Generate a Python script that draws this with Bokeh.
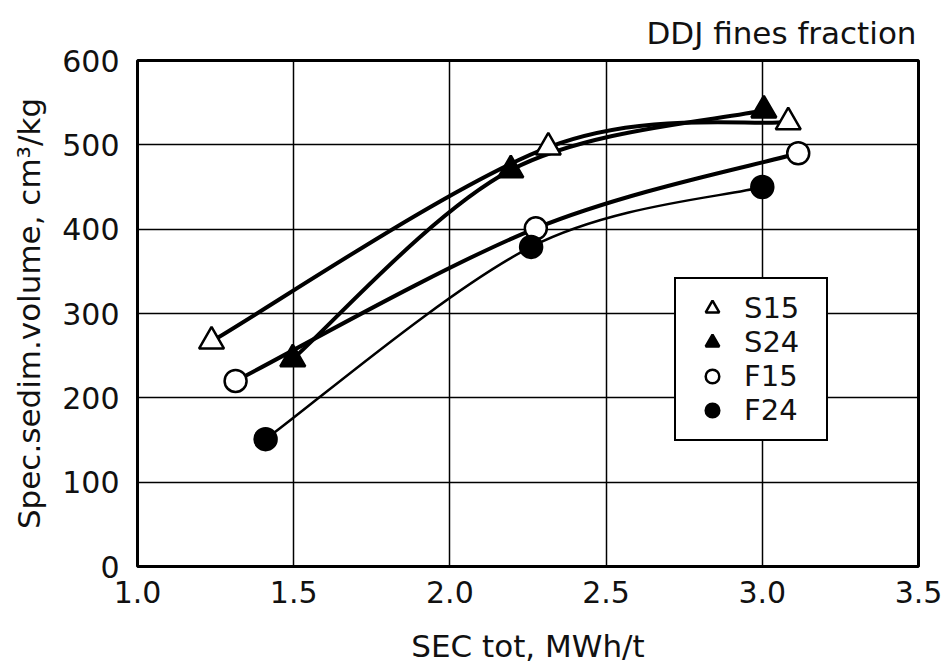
from bokeh.plotting import figure
from bokeh.models import Legend, LegendItem, FixedTicker, ColumnDataSource
from bokeh.embed import file_html
from bokeh.resources import INLINE

# ---- data ----
s15_x = [1.237, 2.315, 3.083]
s15_y = [267, 497, 527]
s24_x = [1.497, 2.195, 3.005]
s24_y = [246, 470, 541]
f15_x = [1.314, 2.275, 3.115]
f15_y = [220, 401, 490]
f24_x = [1.41, 2.26, 3.0]
f24_y = [151, 379, 450]

series_names = ["S15", "S24", "F15", "F24"]
x_ticks = [1.0, 1.5, 2.0, 2.5, 3.0, 3.5]
x_tick_labels = ["1.0", "1.5", "2.0", "2.5", "3.0", "3.5"]
y_ticks = [0, 100, 200, 300, 400, 500, 600]
y_tick_labels = ["0", "100", "200", "300", "400", "500", "600"]

FONT = "DejaVu Sans"

p = figure(width=947, height=666, output_backend="svg", toolbar_location=None,
           x_range=(1.0, 3.5), y_range=(0, 600),
           min_border_left=137, min_border_right=29, min_border_top=60, min_border_bottom=98)

p.title.text = "DDJ fines fraction"
p.title.align = "right"
p.title.text_font = FONT
p.title.text_font_size = "31px"
p.title.text_font_style = "normal"
p.title.text_color = "#111111"
p.title.offset = 2
p.title.standoff = 20

p.outline_line_color = "black"
p.outline_line_width = 3
p.outline_line_alpha = 1
p.background_fill_color = "white"
p.border_fill_color = "white"

p.xaxis.ticker = FixedTicker(ticks=x_ticks)
p.yaxis.ticker = FixedTicker(ticks=y_ticks)
p.xaxis.major_label_overrides = dict(zip(x_ticks, x_tick_labels))
p.yaxis.major_label_overrides = dict(zip(y_ticks, y_tick_labels))

for ax in (p.xaxis[0], p.yaxis[0]):
    ax.axis_line_color = None
    ax.major_tick_line_color = None
    ax.minor_tick_line_color = None
    ax.major_label_text_font = FONT
    ax.major_label_text_font_size = "30px"
    ax.major_label_text_color = "#111111"
    ax.axis_label_text_font = FONT
    ax.axis_label_text_font_size = "31px"
    ax.axis_label_text_font_style = "normal"
    ax.axis_label_text_color = "#111111"

p.xaxis.axis_label = "SEC tot, MWh/t"
p.yaxis.axis_label = "Spec.sedim.volume, cm³/kg"
p.xaxis.major_label_standoff = 8
p.yaxis.major_label_standoff = 12
p.xaxis.axis_label_standoff = 22
p.yaxis.axis_label_standoff = 12

p.xgrid.grid_line_color = "black"
p.ygrid.grid_line_color = "black"
p.xgrid.grid_line_width = 1.5
p.ygrid.grid_line_width = 1.5
p.xgrid.grid_line_alpha = 1
p.ygrid.grid_line_alpha = 1


def smooth(xs, ys, width):
    # Catmull-Rom style smoothing drawn as Bezier segments through the data points
    n = len(xs)
    x0, y0, x1, y1, cx0, cy0, cx1, cy1 = [], [], [], [], [], [], [], []
    for i in range(n - 1):
        ip = max(i - 1, 0)
        inn = min(i + 2, n - 1)
        x0.append(xs[i]); y0.append(ys[i])
        x1.append(xs[i + 1]); y1.append(ys[i + 1])
        cx0.append(xs[i] + (xs[i + 1] - xs[ip]) / 6.0)
        cy0.append(ys[i] + (ys[i + 1] - ys[ip]) / 6.0)
        cx1.append(xs[i + 1] - (xs[inn] - xs[i]) / 6.0)
        cy1.append(ys[i + 1] - (ys[inn] - ys[i]) / 6.0)
    src = ColumnDataSource(dict(x0=x0, y0=y0, x1=x1, y1=y1, cx0=cx0, cy0=cy0, cx1=cx1, cy1=cy1))
    p.bezier(x0="x0", y0="y0", x1="x1", y1="y1", cx0="cx0", cy0="cy0", cx1="cx1", cy1="cy1",
             source=src, line_color="black", line_width=width)


smooth(s15_x, s15_y, 4)
smooth(s24_x, s24_y, 4)
smooth(f15_x, f15_y, 4)
smooth(f24_x, f24_y, 2.5)

r_s15 = p.scatter(s15_x, s15_y, marker="triangle", size=25, fill_color="white",
                  line_color="black", line_width=2.5)
r_s24 = p.scatter(s24_x, s24_y, marker="triangle", size=25, fill_color="black",
                  line_color="black", line_width=2.5)
r_f15 = p.scatter(f15_x, f15_y, marker="circle", size=22, fill_color="white",
                  line_color="black", line_width=2.5)
r_f24 = p.scatter(f24_x, f24_y, marker="circle", size=22, fill_color="black",
                  line_color="black", line_width=2.5)

legend = Legend(items=[LegendItem(label=n, renderers=[r]) for n, r in
                       zip(series_names, [r_s15, r_s24, r_f15, r_f24])],
                location=(537, 125))
legend.border_line_color = "black"
legend.border_line_width = 2.5
legend.border_line_alpha = 1
legend.background_fill_color = "white"
legend.background_fill_alpha = 1
legend.label_text_font = FONT
legend.label_text_font_size = "29px"
legend.label_text_color = "#111111"
legend.label_height = 34
legend.glyph_height = 34
legend.glyph_width = 48
legend.label_standoff = 8
legend.label_width = 70
legend.spacing = 0
legend.padding = 12
legend.margin = 0
p.add_layout(legend, "center")

open("out.html", "w").write(file_html(p, INLINE))
